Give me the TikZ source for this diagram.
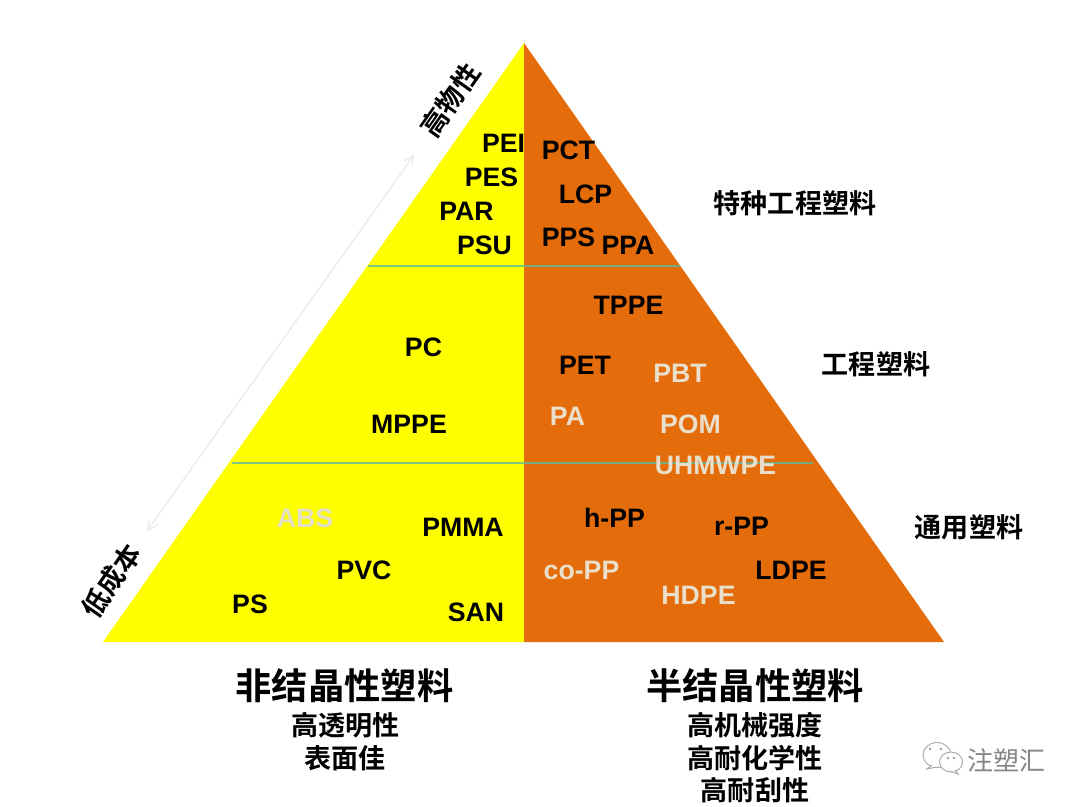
\documentclass[tikz,border=0pt]{standalone}
\usepackage{fontspec}
\setmainfont{Liberation Sans}
\newfontfamily\cjk{Noto Sans CJK SC}[BoldFont={Noto Sans CJK SC Bold}]
\usetikzlibrary{arrows.meta}
\definecolor{pyel}{HTML}{FFFF00}
\definecolor{porg}{HTML}{E46C0A}
\definecolor{lite}{HTML}{EADFCB}
\definecolor{absc}{HTML}{E3DFC4}
\definecolor{divc}{RGB}{94,186,157}
\tikzset{
  poly/.style={inner sep=0pt,font=\fontsize{20}{24}\selectfont\bfseries,text=black},
  polylite/.style={poly,text=lite},
  tier/.style={inner sep=0pt,font=\cjk\fontsize{20.3}{24}\selectfont\bfseries},
  headline/.style={inner sep=0pt,font=\cjk\fontsize{27.2}{32}\selectfont\bfseries},
  subline/.style={inner sep=0pt,font=\cjk\fontsize{20.3}{24}\selectfont\bfseries},
  divider/.style={draw=divc,opacity=.8,line width=1.1pt},
  span/.style={draw=black!10,line width=.7pt,{Straight Barb[length=7pt,width=7pt]}-{Straight Barb[length=7pt,width=7pt]}},
  logo/.style={draw=black!32,fill=white,line width=.75pt}
}
\begin{document}
\begin{tikzpicture}[x=.75pt,y=-.75pt]
\useasboundingbox (0,0) rectangle (1080,806);
\fill[white] (0,0) rectangle (1080,806);
\fill[pyel] (524,43) -- (103,642) -- (524,642) -- cycle;
\fill[porg] (524,43) -- (944,642) -- (524,642) -- cycle;
\coordinate (d1l) at (368,266); \coordinate (d1r) at (680,266);
\coordinate (d2l) at (232,463); \coordinate (d2r) at (813,463);
\draw[divider] (d1l) -- (d1r);
\draw[divider] (d2l) -- (d2r);
\coordinate (up) at (414,155); \coordinate (dn) at (147,531);
\draw[span] (dn) -- (up);
% left
\node[poly] (pei) at (503.5,143) {PEI};
\node[poly] (pes) at (491.5,177) {PES};
\node[poly] (par) at (466.5,211) {PAR};
\node[poly] (psu) at (484.5,245) {PSU};
\node[poly] (pc) at (423.5,347.5) {PC};
\node[poly] (mppe) at (409,424.5) {MPPE};
\node[poly,text=absc] (abs) at (305,518) {ABS};
\node[poly] (pmma) at (463,527.5) {PMMA};
\node[poly] (pvc) at (364,570) {PVC};
\node[poly] (ps) at (250,604) {PS};
\node[poly] (san) at (476,612) {SAN};
% right
\node[poly] (pct) at (568.5,150.5) {PCT};
\node[poly] (lcp) at (585.5,194) {LCP};
\node[poly] (pps) at (568.5,237) {PPS};
\node[poly] (ppa) at (628,245) {PPA};
\node[poly] (tppe) at (628.5,305.5) {TPPE};
\node[poly] (pet) at (585,365) {PET};
\node[polylite] (pbt) at (680,373.5) {PBT};
\node[polylite] (pa) at (567.5,416) {PA};
\node[polylite] (pom) at (690.5,424) {POM};
\node[polylite] (uhm) at (715.5,465.5) {UHMWPE};
\node[poly] (hpp) at (614.5,518) {h-PP};
\node[poly] (rpp) at (741.5,526.5) {r-PP};
\node[polylite] (copp) at (581.5,570) {co-PP};
\node[poly] (ldpe) at (791,570) {LDPE};
\node[polylite] (hdpe) at (698.5,595.5) {HDPE};
% tiers
\node[tier] (t1) at (795,203) {特种工程塑料};
\node[tier] (t2) at (876,364) {工程塑料};
\node[tier] (t3) at (969,527) {通用塑料};
\node[tier,rotate=55] (hi) at (450,100) {高物性};
\node[tier,rotate=55] (lo) at (111,581) {低成本};
% bottom
\node[headline] (h1) at (344.5,686) {非结晶性塑料};
\node[subline] (s1a) at (345.5,725) {高透明性};
\node[subline] (s1b) at (345,758) {表面佳};
\node[headline] (h2) at (755,686) {半结晶性塑料};
\node[subline] (s2a) at (755,725) {高机械强度};
\node[subline] (s2b) at (755,758) {高耐化学性};
\node[subline] (s2c) at (755,790) {高耐刮性};
% watermark
\draw[logo] (937,755) ellipse [x radius=14,y radius=12.5];
\draw[logo] (932,765) -- (927,769) -- (936,767);
\fill[black!40] (930,749) circle (1.4) (941,749) circle (1.4);
\draw[logo] (951,762) ellipse [x radius=11.5,y radius=10];
\draw[logo] (955,770) -- (958,774) -- (950,771);
\fill[black!40] (948,758) circle (1.3) (954,758) circle (1.3);
\node[inner sep=0pt,text=black!48,font=\cjk\fontsize{19.5}{22}\selectfont] (wm) at (1006.5,760) {注塑汇};
\end{tikzpicture}
\end{document}
